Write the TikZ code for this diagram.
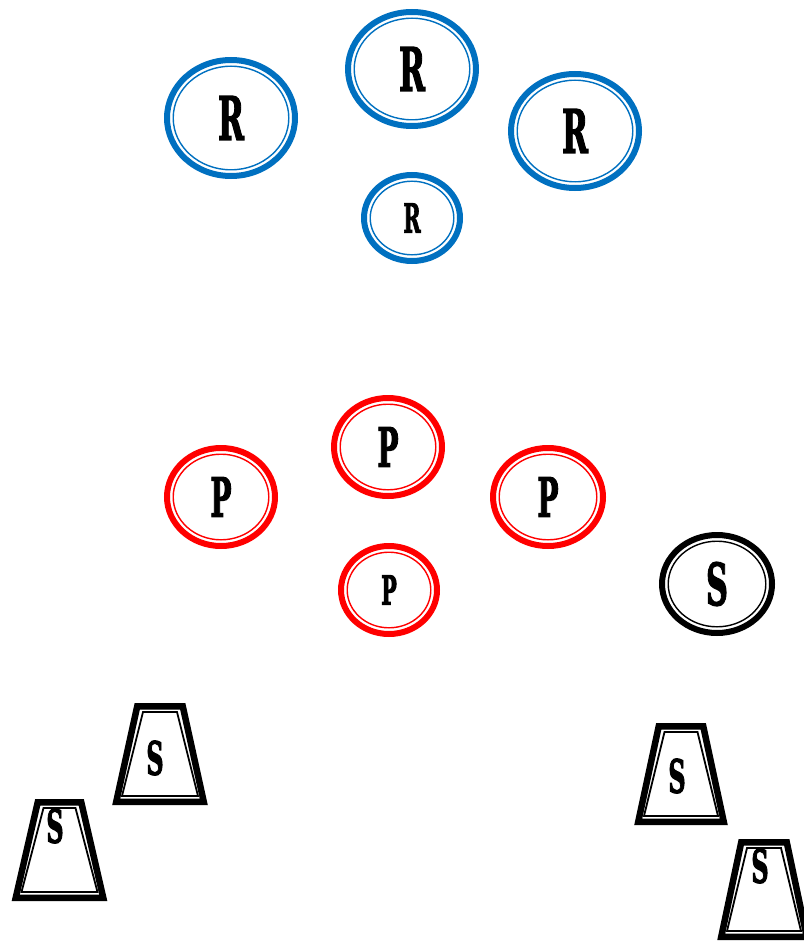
\documentclass[tikz,border=0pt]{standalone}
\usepackage{fontspec}
\newfontfamily\dispfont[FakeBold=2.5]{DejaVu Serif Condensed Bold}
\definecolor{ringblue}{HTML}{0070C0}
\definecolor{ringred}{HTML}{FF0000}
\tikzset{
  lab/.style={font=\dispfont, text=black, inner sep=0pt},
  thickln/.style={line width=6pt},
  thinln/.style={line width=1.4pt},
}
% \Ring{name}{cx}{cy}{rx}{ry}{colour}{size}{text}
\newcommand\Ring[8]{%
  \draw[thickln,#6] (#2,#3) ellipse [x radius=#4-3, y radius=#5-3];
  \draw[thinln,#6] (#2,#3) ellipse [x radius=#4-9.2, y radius=#5-9.2];
  \node[lab] (#1) at (#2,#3) {\scalebox{0.58}[1]{\fontsize{#7}{#7}\selectfont #8}};
}
% \Trap{name}{cx}{top}{bottom}{tophalf}{bothalf}{textx}{texty}
\newcommand\Trap[8]{%
  \draw[line width=6.5pt, line join=miter] (#2-#5+3.25,#3+3.25) -- (#2+#5-3.25,#3+3.25) -- (#2+#6-3.25,#4-3.25) -- (#2-#6+3.25,#4-3.25) -- cycle;
  \draw[line width=1.8pt] (#2-#5+9,#3+9) -- (#2+#5-9,#3+9) -- (#2+#6-9,#4-9) -- (#2-#6+9,#4-9) -- cycle;
  \node[lab] (#1) at (#7,#8) {\scalebox{0.58}[1]{\fontsize{46}{46}\selectfont S}};
}
\begin{document}
\begin{tikzpicture}[x=1pt,y=-1pt]
\useasboundingbox (0,0) rectangle (803,944);
\Ring{r1}{231}{118}{67}{61}{ringblue}{60}{R}
\Ring{r2}{412}{69}{67}{60}{ringblue}{60}{R}
\Ring{r3}{575}{131}{67}{60}{ringblue}{60}{R}
\Ring{r4}{412}{218}{51}{46}{ringblue}{40}{R}
\Ring{p1}{388}{447}{57}{52}{ringred}{54}{P}
\Ring{p2}{221}{497}{57}{52}{ringred}{54}{P}
\Ring{p3}{548}{497}{58}{52}{ringred}{54}{P}
\Ring{p4}{389}{590}{51}{47}{ringred}{40}{P}
\Ring{s0}{717}{584}{58}{52}{black}{58}{S}
\Trap{t1}{160}{703}{805}{26}{47}{155}{758}
\Trap{t2}{59.5}{799}{901}{25}{47}{55}{826}
\Trap{t3}{681}{723}{825}{25.5}{46}{677}{776}
\Trap{t4}{764}{839}{940}{26}{46}{760}{866}
\end{tikzpicture}
\end{document}
